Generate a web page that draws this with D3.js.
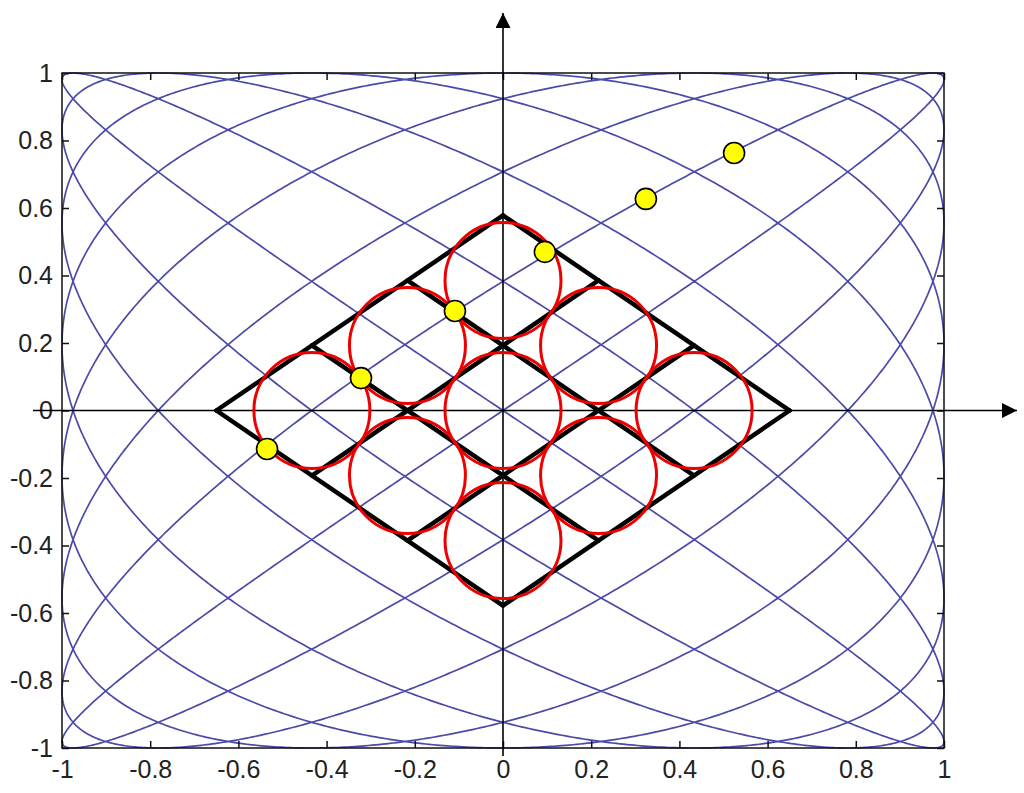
<!DOCTYPE html>
<html>
<head>
<meta charset="utf-8">
<script src="https://cdn.jsdelivr.net/npm/d3@7"></script>
<style>
  html, body { margin: 0; padding: 0; background: #fff; }
  svg { display: block; }
  text { font-family: "Liberation Sans", Arial, sans-serif; }
</style>
</head>
<body>
<svg id="chart" width="1024" height="793"></svg>
<script>
// tick values on both axes
const xTicks = [-1, -0.8, -0.6, -0.4, -0.2, 0, 0.2, 0.4, 0.6, 0.8, 1];
const yTicks = [-1, -0.8, -0.6, -0.4, -0.2, 0, 0.2, 0.4, 0.6, 0.8, 1];

// lissajous curve x = sin(fx t + phase), y = sin(fy t)
const freqX = 8;
const freqY = 7;
const phase = 0;
const samples = 6000;

// big rhombus: half diagonals, split into 3 x 3 cells
const rhombusA = 0.65;
const rhombusB = 0.578;
const cells = 3;
const circleR = 0.1315; // in x units

// yellow points along one branch
const pointsX = [-0.535, -0.322, -0.109, 0.095, 0.324, 0.524];
const pointsY = [-0.114, 0.096, 0.295, 0.47, 0.627, 0.763];

const svg = d3.select("#chart");

const x = d3.scaleLinear().domain([-1, 1]).range([62, 944]);
const y = d3.scaleLinear().domain([-1, 1]).range([748, 73]);

// plain hyphen like the original, not the unicode minus
const fmt = (d) => String(d);

// curve
const ts = d3.range(samples + 1).map((i) => (i / samples) * 2 * Math.PI);
const curve = ts.map((t) => [Math.sin(freqX * t + phase), Math.sin(freqY * t)]);

svg.append("path")
  .datum(curve)
  .attr("fill", "none")
  .attr("stroke", "#2a2a98")
  .attr("stroke-width", 1.7)
  .attr("stroke-opacity", 0.85)
  .attr("d", d3.line().x((d) => x(d[0])).y((d) => y(d[1])));

// frame with ticks on all four sides
const frame = svg.append("g");
frame.append("rect")
  .attr("x", x(-1)).attr("y", y(1))
  .attr("width", x(1) - x(-1)).attr("height", y(-1) - y(1))
  .attr("fill", "none").attr("stroke", "#111").attr("stroke-width", 1.5);

const tickLen = 7;
frame.append("g")
  .attr("transform", `translate(0,${y(-1)})`)
  .call(d3.axisBottom(x).tickValues(xTicks).tickSize(-tickLen).tickPadding(12).tickFormat(fmt))
  .call((g) => g.select(".domain").remove());
frame.append("g")
  .attr("transform", `translate(0,${y(1)})`)
  .call(d3.axisTop(x).tickValues(xTicks).tickSize(-tickLen).tickFormat(""))
  .call((g) => g.select(".domain").remove());
frame.append("g")
  .attr("transform", `translate(${x(-1)},0)`)
  .call(d3.axisLeft(y).tickValues(yTicks).tickSize(-tickLen).tickPadding(9).tickFormat(fmt))
  .call((g) => g.select(".domain").remove());
frame.append("g")
  .attr("transform", `translate(${x(1)},0)`)
  .call(d3.axisRight(y).tickValues(yTicks).tickSize(-tickLen).tickFormat(""))
  .call((g) => g.select(".domain").remove());

frame.selectAll(".tick line").attr("stroke", "#111").attr("stroke-width", 1.5);
frame.selectAll(".tick text")
  .attr("fill", "#222")
  .style("font-size", "25px")
  .style("font-family", "'Liberation Sans', Arial, sans-serif");

// arrow axes through the origin
const defs = svg.append("defs");
defs.append("marker")
  .attr("id", "arrow")
  .attr("viewBox", "0 0 10 10")
  .attr("refX", 10).attr("refY", 5)
  .attr("markerWidth", 19).attr("markerHeight", 15)
  .attr("markerUnits", "userSpaceOnUse")
  .attr("orient", "auto")
  .append("path")
  .attr("d", "M0,0 L10,5 L0,10 Z")
  .attr("fill", "#000");

svg.append("line")
  .attr("x1", 33).attr("y1", y(0))
  .attr("x2", 1017).attr("y2", y(0))
  .attr("stroke", "#000").attr("stroke-width", 1.6)
  .attr("marker-end", "url(#arrow)");
svg.append("line")
  .attr("x1", x(0)).attr("y1", 756)
  .attr("x2", x(0)).attr("y2", 13)
  .attr("stroke", "#000").attr("stroke-width", 1.6)
  .attr("marker-end", "url(#arrow)");

// rhombus grid: lines parallel to both edges
const L = [-rhombusA, 0], T = [0, rhombusB], B = [0, -rhombusB];
const pt = (u, v) => [L[0] + u * (T[0] - L[0]) + v * (B[0] - L[0]), L[1] + u * (T[1] - L[1]) + v * (B[1] - L[1])];
const gridLines = [];
for (let i = 0; i <= cells; i++) {
  const s = i / cells;
  gridLines.push([pt(0, s), pt(1, s)]);
  gridLines.push([pt(s, 0), pt(s, 1)]);
}
svg.append("g")
  .selectAll("line")
  .data(gridLines)
  .join("line")
  .attr("x1", (d) => x(d[0][0])).attr("y1", (d) => y(d[0][1]))
  .attr("x2", (d) => x(d[1][0])).attr("y2", (d) => y(d[1][1]))
  .attr("stroke", "#000")
  .attr("stroke-width", 4.5)
  .attr("stroke-linecap", "round");

// one circle per cell
const centers = [];
for (let i = 0; i < cells; i++) {
  for (let j = 0; j < cells; j++) {
    centers.push(pt((i + 0.5) / cells, (j + 0.5) / cells));
  }
}
const rPx = x(circleR) - x(0);
svg.append("g")
  .selectAll("circle")
  .data(centers)
  .join("circle")
  .attr("cx", (d) => x(d[0]))
  .attr("cy", (d) => y(d[1]))
  .attr("r", rPx)
  .attr("fill", "none")
  .attr("stroke", "#ee0000")
  .attr("stroke-width", 3);

// yellow points
svg.append("g")
  .selectAll("circle")
  .data(pointsX.map((v, i) => [v, pointsY[i]]))
  .join("circle")
  .attr("cx", (d) => x(d[0]))
  .attr("cy", (d) => y(d[1]))
  .attr("r", 10.5)
  .attr("fill", "#ffff00")
  .attr("stroke", "#000")
  .attr("stroke-width", 1.6);
</script>
</body>
</html>
